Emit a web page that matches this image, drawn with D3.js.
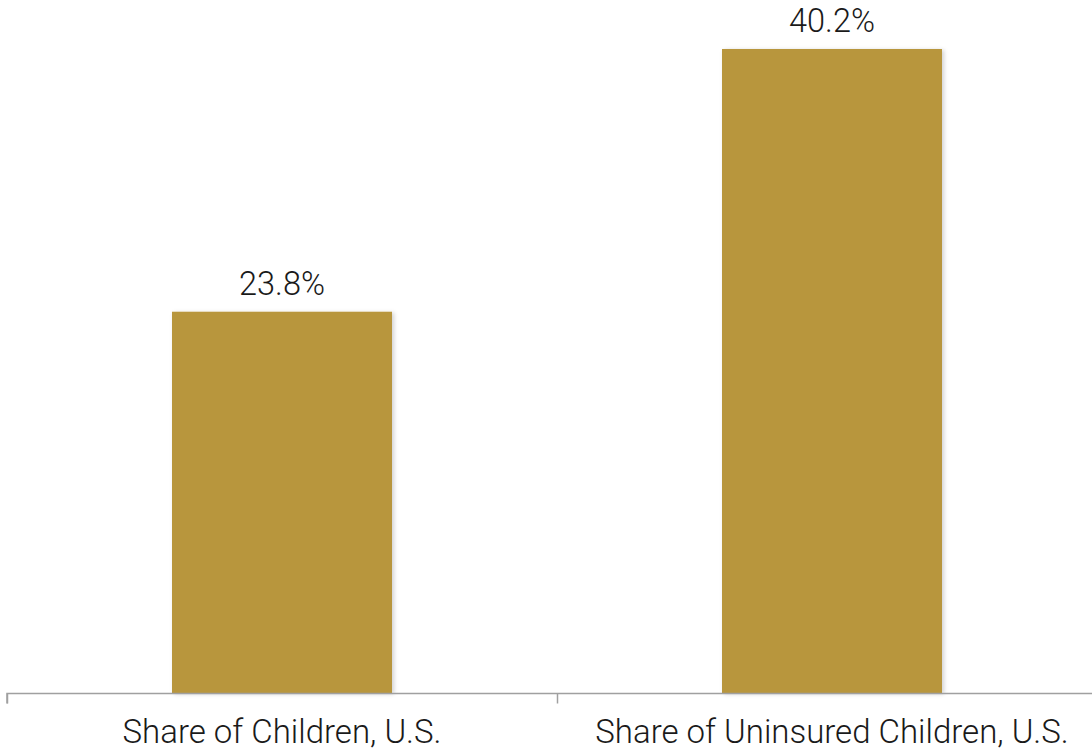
<!DOCTYPE html>
<html><head><meta charset="utf-8">
<script src="https://cdn.jsdelivr.net/npm/d3@7"></script>
<style>
html,body{margin:0;padding:0;background:#fff;}
text{font-family:"Roboto","Helvetica Neue","Liberation Sans",sans-serif;}
</style></head>
<body><svg id="c" width="1092" height="751"></svg>
<script>
const categories = ["Share of Children, U.S.", "Share of Uninsured Children, U.S."];
const values = [23.8, 40.2];
const labels = ["23.8%", "40.2%"];

const svg = d3.select("#c");
const x = d3.scaleBand().domain(categories).range([7, 1107]).paddingInner(0.6).paddingOuter(0.3);
const y = d3.scaleLinear().domain([0, 40.2]).range([693, 49]);

const defs = svg.append("defs");
const f = defs.append("filter").attr("id","sh").attr("x","-10%").attr("y","-10%").attr("width","130%").attr("height","130%");
f.append("feDropShadow").attr("dx",2).attr("dy",1).attr("stdDeviation",2).attr("flood-color","#000").attr("flood-opacity",0.18);

svg.selectAll("rect.bar").data(values).join("rect")
  .attr("class","bar")
  .attr("x",(d,i)=>x(categories[i]))
  .attr("width",x.bandwidth())
  .attr("y",d=>y(d))
  .attr("height",d=>y(0)-y(d))
  .attr("fill","#B8963C")
  .attr("filter","url(#sh)");

svg.selectAll("text.val").data(values).join("text")
  .attr("class","val")
  .attr("x",(d,i)=>x(categories[i])+x.bandwidth()/2)
  .attr("y",d=>y(d)-17)
  .attr("text-anchor","middle")
  .attr("font-size",32.5).attr("font-weight",300).attr("fill","#1a1a1a")
  .text((d,i)=>labels[i]);

const axis = d3.axisBottom(d3.scaleLinear().domain([0,2]).range([7,1107]))
  .tickValues([0,1,2]).tickSize(10).tickFormat("");
const g = svg.append("g").attr("transform","translate(0,693.5)").call(axis);
g.select(".domain").attr("stroke","#a0a0a0").attr("stroke-width",1.5).attr("d","M7,10V0H1107");
g.selectAll(".tick line").attr("stroke","#a0a0a0").attr("stroke-width",1.5);

svg.selectAll("text.cat").data(categories).join("text")
  .attr("class","cat")
  .attr("x",d=>x(d)+x.bandwidth()/2)
  .attr("y",743)
  .attr("text-anchor","middle")
  .attr("font-size",33).attr("font-weight",300).attr("fill","#1a1a1a")
  .text(d=>d);
</script></body></html>
